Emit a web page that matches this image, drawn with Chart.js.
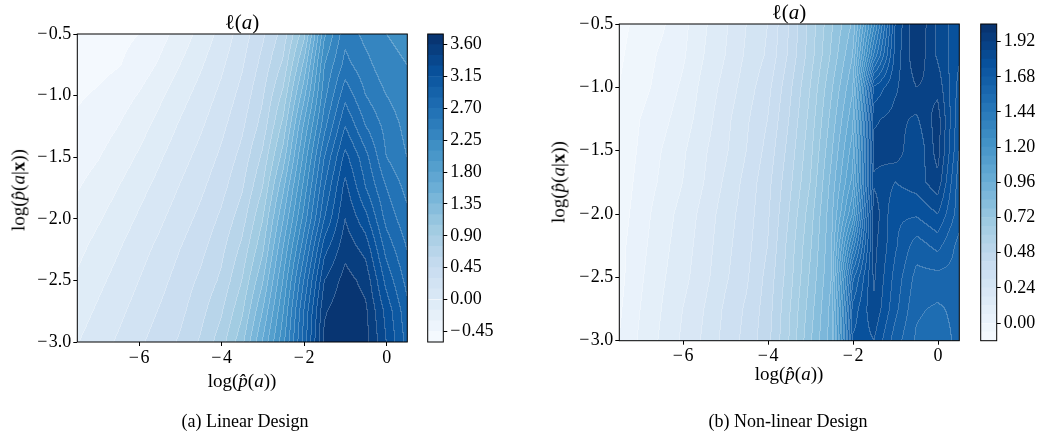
<!DOCTYPE html>
<html><head><meta charset="utf-8">
<script src="https://cdn.jsdelivr.net/npm/chart.js@4.4.1/dist/chart.umd.min.js"></script>
<style>
body{margin:0;background:#fff;width:1040px;height:438px;position:relative;overflow:hidden;font-family:'Liberation Serif',serif;}
canvas{position:absolute;top:0;}
.t{position:absolute;white-space:nowrap;color:#000;line-height:1;font-family:'Liberation Serif',serif;}
.c{transform:translateX(-50%);}
.r{transform:translate(-50%,-50%) rotate(-90deg);}
</style></head><body>
<canvas id="mainA" width="420" height="400" style="left:0px"></canvas>
<canvas id="cbA" width="100" height="400" style="left:420px"></canvas>
<canvas id="mainB" width="450" height="400" style="left:520px"></canvas>
<canvas id="cbB" width="70" height="400" style="left:970px"></canvas>

<div class="t c" style="left:242px;top:12px;font-size:21px">ℓ(<i>a</i>)</div>
<div class="t c" style="left:789px;top:2px;font-size:21px">ℓ(<i>a</i>)</div>
<div class="t c" style="left:242px;top:371px;font-size:19px">log(<i>p̂</i>(<i>a</i>))</div>
<div class="t c" style="left:789px;top:364px;font-size:19px">log(<i>p̂</i>(<i>a</i>))</div>
<div class="t r" style="left:18px;top:190px;font-size:19px">log(<i>p̂</i>(<i>a</i>|<b>x</b>))</div>
<div class="t r" style="left:558px;top:182px;font-size:19px">log(<i>p̂</i>(<i>a</i>|<b>x</b>))</div>
<div class="t c" style="left:245px;top:412px;font-size:18px">(a) Linear Design</div>
<div class="t c" style="left:788px;top:412px;font-size:18px">(b) Non-linear Design</div>

<script>
// ---------- data ----------
const xGrid = [-7.5,-7,-6.5,-6,-5.5,-5,-4.5,-4,-3.5,-3,-2.5,-2,-1.5,-1,-0.5,0,0.5];
const yGrid = [-0.5,-0.75,-1,-1.25,-1.5,-1.75,-2,-2.25,-2.5,-2.75,-3];

// (a) Linear Design: rows follow yGrid, columns follow xGrid
const linearZ = [
  [-0.55,-0.52,-0.49,-0.45,-0.36,-0.24,-0.10,0.05,0.22,0.42,0.66,1.14,2.07,2.50,2.35,2.25,2.20],
  [-0.53,-0.50,-0.46,-0.39,-0.28,-0.15,-0.02,0.12,0.28,0.50,0.78,1.38,2.25,2.60,2.45,2.30,2.25],
  [-0.47,-0.43,-0.37,-0.29,-0.18,-0.06,0.06,0.19,0.35,0.58,0.94,1.60,2.35,2.80,2.55,2.40,2.30],
  [-0.42,-0.37,-0.30,-0.21,-0.10,0.02,0.13,0.26,0.42,0.66,1.10,1.82,2.50,3.00,2.70,2.50,2.35],
  [-0.37,-0.31,-0.23,-0.13,-0.02,0.09,0.20,0.33,0.50,0.78,1.27,1.99,2.70,3.20,2.90,2.55,2.40],
  [-0.31,-0.24,-0.15,-0.05,0.05,0.16,0.27,0.40,0.58,0.90,1.47,2.15,2.85,3.35,3.00,2.70,2.50],
  [-0.25,-0.17,-0.08,0.02,0.12,0.23,0.34,0.48,0.68,1.04,1.64,2.30,3.00,3.45,3.20,2.80,2.60],
  [-0.19,-0.10,-0.01,0.09,0.19,0.30,0.41,0.56,0.79,1.17,1.81,2.50,3.25,3.55,3.40,2.95,2.70],
  [-0.13,-0.04,0.05,0.15,0.25,0.36,0.48,0.63,0.90,1.33,1.96,2.70,3.45,3.66,3.55,3.10,2.80],
  [-0.07,0.02,0.11,0.21,0.31,0.41,0.55,0.73,1.02,1.50,2.09,2.85,3.58,3.72,3.63,3.25,2.90],
  [-0.01,0.08,0.17,0.27,0.37,0.47,0.62,0.83,1.15,1.66,2.20,2.90,3.64,3.73,3.66,3.30,2.95]
];

// (b) Non-linear Design
const nonlinearZ = [
  [-0.08,-0.04,-0.01,0.04,0.11,0.17,0.24,0.30,0.42,0.56,0.71,0.85,1.30,1.80,1.98,1.85,1.75],
  [-0.07,-0.03,0.01,0.05,0.12,0.18,0.25,0.31,0.43,0.57,0.73,0.90,1.45,1.82,1.97,1.85,1.75],
  [-0.06,-0.02,0.02,0.07,0.14,0.20,0.27,0.34,0.46,0.60,0.77,0.95,1.75,1.85,1.92,1.90,1.72],
  [-0.05,0.00,0.04,0.09,0.15,0.22,0.29,0.36,0.48,0.62,0.80,1.00,1.85,1.88,1.85,1.95,1.70],
  [-0.05,0.01,0.06,0.11,0.17,0.23,0.30,0.38,0.50,0.64,0.83,1.05,1.88,1.90,1.80,1.95,1.68],
  [-0.04,0.02,0.07,0.12,0.18,0.25,0.32,0.40,0.52,0.66,0.86,1.10,1.85,1.80,1.83,1.90,1.65],
  [-0.03,0.03,0.09,0.14,0.20,0.27,0.33,0.41,0.54,0.69,0.88,1.20,1.90,1.75,1.75,1.80,1.65],
  [-0.02,0.04,0.10,0.15,0.21,0.28,0.34,0.42,0.56,0.71,0.89,1.40,1.88,1.75,1.65,1.70,1.60],
  [-0.02,0.05,0.11,0.16,0.22,0.29,0.35,0.44,0.57,0.73,0.90,1.60,1.87,1.72,1.60,1.60,1.60],
  [-0.01,0.06,0.12,0.18,0.24,0.31,0.37,0.45,0.59,0.75,0.92,1.70,1.85,1.70,1.57,1.55,1.58],
  [0.00,0.07,0.13,0.19,0.25,0.32,0.38,0.46,0.60,0.77,0.93,1.75,1.80,1.65,1.55,1.52,1.58]
];

// contour levels (colorbar bands)
const levelsA = [-0.60,-0.45,-0.30,-0.15,0.00,0.15,0.30,0.45,0.60,0.75,0.90,1.05,1.20,1.35,1.50,1.65,1.80,1.95,2.10,2.25,2.40,2.55,2.70,2.85,3.00,3.15,3.30,3.45,3.60,3.75];
const levelsB = [-0.12,-0.06,0.00,0.06,0.12,0.18,0.24,0.30,0.36,0.42,0.48,0.54,0.60,0.66,0.72,0.78,0.84,0.90,0.96,1.02,1.08,1.14,1.20,1.26,1.32,1.38,1.44,1.50,1.56,1.62,1.68,1.74,1.80,1.86,1.92,1.98,2.04];

// tick labels
const xTicks = [-6,-4,-2,0];
const yTicks = [-3,-2.5,-2,-1.5,-1,-0.5];
const cbTicksA = [-0.45,0.00,0.45,0.90,1.35,1.80,2.25,2.70,3.15,3.60];
const cbTicksB = [0.00,0.24,0.48,0.72,0.96,1.20,1.44,1.68,1.92];
const xRange = [-7.5, 0.5];
const yRange = [-3, -0.5];

// ---------- styling helpers ----------
const BLUES = [[247,251,255],[222,235,247],[198,219,239],[158,202,225],[107,174,214],[66,146,198],[33,113,181],[8,81,156],[8,48,107]];
function blues(t){
  t = Math.min(1, Math.max(0, t));
  const s = t*8, i = Math.min(7, Math.floor(s)), f = s - i;
  return BLUES[i].map((c,k)=>Math.round(c + (BLUES[i+1][k]-c)*f));
}
function bandColors(levels){
  const n = levels.length-1, out=[];
  for(let i=0;i<n;i++) out.push(blues((i+0.5)/n));
  return out;
}
const MINUS = '\u2212\u200A';
function fmtTick(v, d){ const s = Math.abs(v).toFixed(d); return (v < 0 ? MINUS : '') + s; }

Chart.defaults.font.family = "'Liberation Serif', serif";
Chart.defaults.font.size = 18;
Chart.defaults.color = '#000';

const fields = {
  mainA: {z: linearZ, levels: levelsA},
  mainB: {z: nonlinearZ, levels: levelsB}
};

function sampleGrid(z, xv, yv){
  let j = 0; while (j < xGrid.length-2 && xv > xGrid[j+1]) j++;
  let i = 0; while (i < yGrid.length-2 && yv < yGrid[i+1]) i++;
  let fx = (xv - xGrid[j])/(xGrid[j+1]-xGrid[j]);
  let fy = (yv - yGrid[i])/(yGrid[i+1]-yGrid[i]);
  fx = Math.min(1,Math.max(0,fx)); fy = Math.min(1,Math.max(0,fy));
  const a = z[i][j], b = z[i][j+1], c = z[i+1][j], d = z[i+1][j+1];
  return (a*(1-fx)+b*fx)*(1-fy) + (c*(1-fx)+d*fx)*fy;
}

const contourPlugin = {
  id: 'contourField',
  beforeDatasetsDraw(chart){
    const f = fields[chart.canvas.id]; if(!f) return;
    const {ctx, chartArea, scales} = chart;
    const L = Math.floor(chartArea.left), T = Math.floor(chartArea.top);
    const R = Math.ceil(chartArea.right), B = Math.ceil(chartArea.bottom);
    const w = R-L, h = B-T;
    const cols = bandColors(f.levels), lv = f.levels, n = lv.length-1;
    const band = new Int16Array(w*h);
    const xs = new Float64Array(w), ys = new Float64Array(h);
    for(let px=0;px<w;px++) xs[px] = scales.x.getValueForPixel(L+px+0.5);
    for(let py=0;py<h;py++) ys[py] = scales.y.getValueForPixel(T+py+0.5);
    for(let py=0;py<h;py++){
      for(let px=0;px<w;px++){
        const v = sampleGrid(f.z, xs[px], ys[py]);
        let b = 0; while(b < n-1 && v >= lv[b+1]) b++;
        band[py*w+px] = b;
      }
    }
    const off = document.createElement('canvas'); off.width=w; off.height=h;
    const octx = off.getContext('2d');
    const img = octx.createImageData(w,h);
    for(let py=0;py<h;py++){
      for(let px=0;px<w;px++){
        const k = py*w+px, b = band[k];
        const c = cols[b];
        const edge = (px<w-1 && band[k+1]!==b) || (py<h-1 && band[k+w]!==b);
        let r=c[0], g=c[1], bl=c[2];
        if(edge){ const m=0.22; r=r+(255-r)*m; g=g+(255-g)*m; bl=bl+(255-bl)*m; }
        img.data[k*4]=r; img.data[k*4+1]=g; img.data[k*4+2]=bl; img.data[k*4+3]=255;
      }
    }
    octx.putImageData(img,0,0);
    ctx.save();
    ctx.beginPath();
    ctx.rect(chartArea.left, chartArea.top, chartArea.right-chartArea.left, chartArea.bottom-chartArea.top);
    ctx.clip();
    ctx.drawImage(off, L, T);
    ctx.restore();
  }
};

const framePlugin = {
  id: 'frameBox',
  afterDraw(chart){
    const {ctx, chartArea:a} = chart;
    ctx.save(); ctx.strokeStyle='#000'; ctx.lineWidth=1;
    ctx.strokeRect(a.left, a.top, a.right-a.left, a.bottom-a.top);
    ctx.restore();
  }
};

function mainChart(id, z, padRight, padTop, yAxisW, xAxisH){
  const nodes = [];
  for(let i=0;i<yGrid.length;i++) for(let j=0;j<xGrid.length;j++) nodes.push({x:xGrid[j], y:yGrid[i], v:z[i][j]});
  return new Chart(document.getElementById(id), {
    type: 'scatter',
    data: {datasets: [{data: nodes, pointRadius: 0, pointHoverRadius: 0, showLine: false}]},
    options: {
      responsive: false, animation: false, events: [],
      layout: {padding: {left: 0, right: padRight, top: padTop, bottom: 0}},
      plugins: {legend: {display: false}, tooltip: {enabled: false}},
      scales: {
        x: {type: 'linear', min: xRange[0], max: xRange[1],
            afterFit(s){ s.height = xAxisH; },
            afterBuildTicks(s){ s.ticks = xTicks.map(v=>({value:v})); },
            grid: {display: true, drawOnChartArea: false, drawTicks: true, tickLength: 4, color: '#000'},
            border: {display: false},
            ticks: {padding: 1, maxRotation: 0, autoSkip: false, callback: v => fmtTick(v,0)}},
        y: {type: 'linear', min: yRange[0], max: yRange[1],
            afterFit(s){ s.width = yAxisW; },
            afterBuildTicks(s){ s.ticks = yTicks.map(v=>({value:v})); },
            grid: {display: true, drawOnChartArea: false, drawTicks: true, tickLength: 4, color: '#000'},
            border: {display: false},
            ticks: {padding: 2, autoSkip: false, callback: v => fmtTick(v,1)}}
      }
    },
    plugins: [contourPlugin, framePlugin]
  });
}

function colorbar(id, levels, ticks, padLeft, padTop, padBottom, axisW){
  const cols = bandColors(levels);
  const ds = cols.map((c,i)=>({
    data: [[levels[i], levels[i+1]]],
    backgroundColor: 'rgb('+c.join(',')+')',
    borderWidth: 0, grouped: false, barPercentage: 1, categoryPercentage: 1
  }));
  return new Chart(document.getElementById(id), {
    type: 'bar',
    data: {labels: [''], datasets: ds},
    options: {
      responsive: false, animation: false, events: [],
      layout: {padding: {left: padLeft, right: 0, top: padTop, bottom: padBottom}},
      plugins: {legend: {display: false}, tooltip: {enabled: false}},
      scales: {
        x: {display: false},
        y: {position: 'right', min: levels[0], max: levels[levels.length-1],
            afterFit(s){ s.width = axisW; },
            afterBuildTicks(s){ s.ticks = ticks.map(v=>({value:v})); },
            grid: {display: true, drawOnChartArea: false, drawTicks: true, tickLength: 4, color: '#000'},
            border: {display: false},
            ticks: {padding: 3, autoSkip: false, callback: v => fmtTick(v,2)}}
      }
    },
    plugins: [framePlugin]
  });
}

mainChart('mainA', linearZ, 12.7, 34, 77.3, 58);
colorbar('cbA', levelsA, cbTicksA, 7.7, 34, 58, 76.7);
mainChart('mainB', nonlinearZ, 10.7, 24, 99.3, 59.3);
colorbar('cbB', levelsB, cbTicksB, 10.7, 24, 59.3, 43.3);
</script>
</body></html>
